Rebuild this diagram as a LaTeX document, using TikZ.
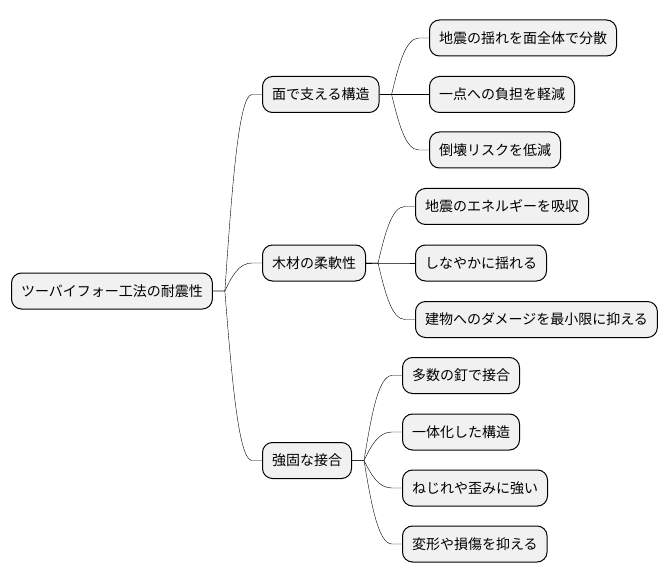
\documentclass[tikz,border=0pt]{standalone}
\usepackage{fontspec}
\setmainfont{Noto Sans CJK JP}
\usetikzlibrary{calc}
\definecolor{boxfill}{HTML}{F1F1F1}
\tikzset{
  mmbox/.style={draw=black, line width=1pt, fill=boxfill, rounded corners=10pt,
    minimum height=36pt, inner xsep=9.5pt, inner ysep=0pt, anchor=west,
    font=\fontsize{14pt}{16pt}\selectfont},
  branch/.style={line width=0.8pt, to path={
    let \p1=(\tikztostart), \p2=(\tikztotarget), \n1={\x2-\x1-22pt}, \n2={\y2-\y1} in
    -- (\x1+12pt,\y1)
    .. controls ({\x1+12pt+0.25*\n1},{\y1+0.5*\n2}) and ({\x2-10pt-0.5*\n1},\y2) ..
    (\x2-10pt,\y2) -- (\tikztotarget)}}
}
\begin{document}
\begin{tikzpicture}[x=1pt,y=-1pt]
\useasboundingbox (0,0) rectangle (670,583);
\node[mmbox] (root) at (11,291) {ツーバイフォー工法の耐震性};
\node[mmbox] (a) at (262,94.5) {面で支える構造};
\node[mmbox] (b) at (262,263) {木材の柔軟性};
\node[mmbox] (c) at (262,460.5) {強固な接合};
\node[mmbox] (a1) at (429,38) {地震の揺れを面全体で分散};
\node[mmbox] (a2) at (429,94.5) {一点への負担を軽減};
\node[mmbox] (a3) at (429,150) {倒壊リスクを低減};
\node[mmbox] (b1) at (415,206.5) {地震のエネルギーを吸収};
\node[mmbox] (b2) at (415,263) {しなやかに揺れる};
\node[mmbox] (b3) at (415,319.5) {建物へのダメージを最小限に抑える};
\node[mmbox] (c1) at (402,375.5) {多数の釘で接合};
\node[mmbox] (c2) at (402,432) {一体化した構造};
\node[mmbox] (c3) at (402,488) {ねじれや歪みに強い};
\node[mmbox] (c4) at (402,544) {変形や損傷を抑える};
\foreach \p/\c in {root/a,root/b,root/c,a/a1,a/a2,a/a3,b/b1,b/b2,b/b3,c/c1,c/c2,c/c3,c/c4}
  \draw (\p.east) to[branch] (\c.west);
\end{tikzpicture}
\end{document}
